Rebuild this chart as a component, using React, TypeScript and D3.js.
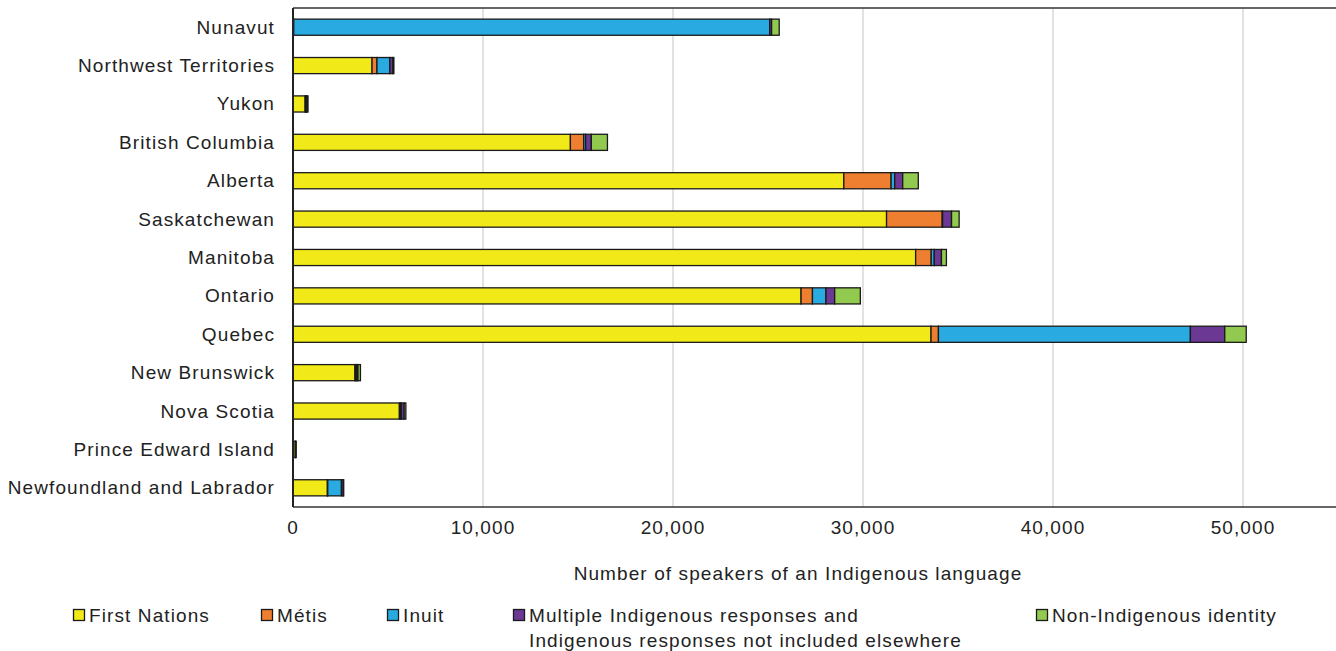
import React from "react";
import * as d3 from "d3";

const provinces = [
  "Nunavut",
  "Northwest Territories",
  "Yukon",
  "British Columbia",
  "Alberta",
  "Saskatchewan",
  "Manitoba",
  "Ontario",
  "Quebec",
  "New Brunswick",
  "Nova Scotia",
  "Prince Edward Island",
  "Newfoundland and Labrador",
];
const firstNations = [30, 4160, 640, 14600, 28990, 31240, 32770, 26740, 33580, 3260, 5600, 120, 1810];
const metis = [10, 260, 20, 700, 2490, 2930, 820, 600, 390, 40, 60, 10, 20];
const inuit = [25050, 680, 30, 100, 190, 20, 160, 710, 13260, 60, 40, 10, 720];
const multiple = [100, 150, 40, 300, 420, 470, 380, 460, 1810, 60, 150, 10, 100];
const nonIndigenous = [400, 60, 60, 850, 820, 400, 260, 1350, 1130, 130, 90, 10, 20];

const seriesKeys = ["fn", "metis", "inuit", "multiple", "non"];
const seriesLabels = [
  ["First Nations"],
  ["Métis"],
  ["Inuit"],
  ["Multiple Indigenous responses and", "Indigenous responses not included elsewhere"],
  ["Non-Indigenous identity"],
];
const seriesColors = ["#F2EA18", "#EE7F30", "#29ABE2", "#6B3894", "#92C94F"];
const xTicks = [0, 10000, 20000, 30000, 40000, 50000];
const axisTitle = "Number of speakers of an Indigenous language";

const W = 1336;
const H = 651;
const M = { left: 293, top: 8, right: 0, bottom: 507 };
const FONT = "'Liberation Sans', Arial, Helvetica, sans-serif";
const FS = 19;
const LS = "1.1px";

export default function App() {
  const rows = provinces.map((p, i) => ({
    province: p,
    fn: firstNations[i],
    metis: metis[i],
    inuit: inuit[i],
    multiple: multiple[i],
    non: nonIndigenous[i],
  }));
  const stack = d3.stack<any>().keys(seriesKeys);
  const stacked = stack(rows);

  const x = d3.scaleLinear().domain([0, 55000]).range([M.left, M.left + 1045]);
  const y = d3.scaleBand().domain(provinces).range([M.top, M.bottom]).paddingInner(0.58).paddingOuter(0.29);
  const fmt = d3.format(",");

  const legendX = [73, 261, 387, 513, 1036];
  const legendY = 615;

  return (
    <svg width={W} height={H} style={{ display: "block", position: "absolute", left: 0, top: 0 }} fontFamily={FONT}>
      <rect x={0} y={0} width={W} height={H} fill="#fff" />
      {xTicks.slice(1).map((t) => (
        <line key={t} x1={x(t)} x2={x(t)} y1={M.top} y2={M.bottom} stroke="#d9d9d9" strokeWidth={1.5} />
      ))}
      <line x1={M.left} x2={W} y1={M.top} y2={M.top} stroke="#333" strokeWidth={1.5} />
      <line x1={M.left} x2={W} y1={M.bottom} y2={M.bottom} stroke="#333" strokeWidth={1.5} />
      {stacked.map((s, si) =>
        s.map((d, i) => (
          <rect
            key={si + "-" + i}
            x={x(d[0])}
            y={y(provinces[i])}
            width={Math.max(0, x(d[1]) - x(d[0]))}
            height={y.bandwidth()}
            fill={seriesColors[si]}
            stroke="#1a1a1a"
            strokeWidth={1.3}
          />
        ))
      )}
      <line x1={M.left} x2={M.left} y1={M.top} y2={M.bottom} stroke="#222" strokeWidth={2} />
      {provinces.map((p) => (
        <text
          key={p}
          x={275}
          y={(y(p) as number) + y.bandwidth() / 2}
          textAnchor="end"
          dominantBaseline="central"
          fontSize={FS}
          letterSpacing={LS}
          fill="#222"
        >
          {p}
        </text>
      ))}
      {xTicks.map((t) => (
        <text key={t} x={x(t)} y={527} textAnchor="middle" dominantBaseline="central" fontSize={FS} letterSpacing={LS} fill="#222">
          {fmt(t)}
        </text>
      ))}
      <text x={798} y={573} textAnchor="middle" dominantBaseline="central" fontSize={FS} letterSpacing={LS} fill="#222">
        {axisTitle}
      </text>
      {seriesLabels.map((lab, i) => (
        <g key={i}>
          <rect x={legendX[i] + 0.5} y={legendY - 5.5} width={11} height={11} fill={seriesColors[i]} stroke="#1a1a1a" strokeWidth={1.3} />
          {lab.map((l, j) => (
            <text
              key={j}
              x={legendX[i] + 16}
              y={legendY + j * 25}
              dominantBaseline="central"
              fontSize={FS}
              letterSpacing={LS}
              fill="#222"
            >
              {l}
            </text>
          ))}
        </g>
      ))}
    </svg>
  );
}
